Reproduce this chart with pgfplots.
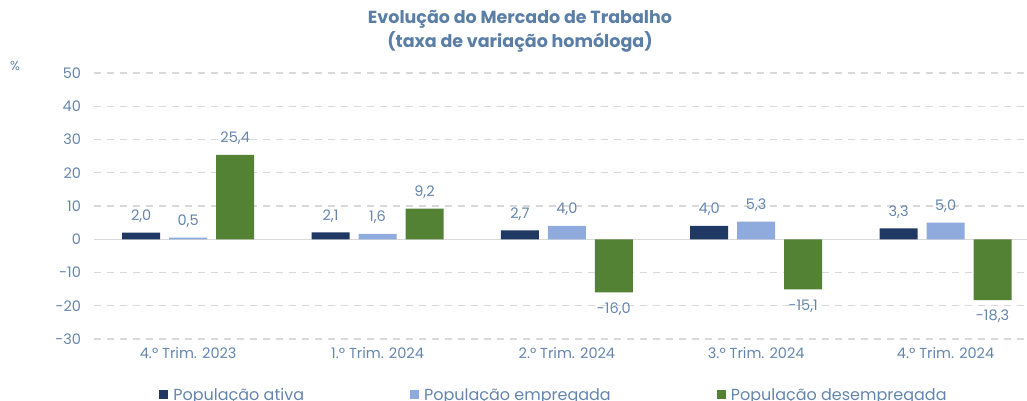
\documentclass[border=0pt]{standalone}
\usepackage{pgfplots}
\pgfplotsset{compat=1.18}
\usepackage{fontspec}
\setmainfont{Poppins}
\definecolor{txt}{HTML}{6585AD}
\definecolor{ttl}{HTML}{5A7EA6}
\definecolor{ativa}{HTML}{1F3864}
\definecolor{empreg}{HTML}{8FAADC}
\definecolor{desemp}{HTML}{548235}
\definecolor{grd}{HTML}{D9D9D9}

\begin{document}
\begin{tikzpicture}
\useasboundingbox (-93.5pt,-61pt) rectangle (933.5pt,339pt);
\begin{axis}[
    scale only axis,
    width=933.5pt, height=266pt,
    xmin=-0.5, xmax=4.43,
    ymin=-30, ymax=50,
    ybar=9pt, bar width=38pt,
    xtick={0,1,2,3,4},
    xticklabels={4.º Trim. 2023, 1.º Trim. 2024, 2.º Trim. 2024, 3.º Trim. 2024, 4.º Trim. 2024},
    ytick={-30,-20,-10,10,20,30,40,50},
    extra y ticks={0},
    extra y tick style={grid style={solid, draw=grd, line width=1.2pt}},
    ymajorgrids=true,
    grid style={dashed, draw=grd, line width=1.2pt, dash pattern=on 7pt off 6pt},
    axis line style={draw=none},
    tick style={draw=none},
    ticklabel style={font=\fontsize{14.5}{16}\selectfont, text=txt},
    yticklabel style={xshift=-9pt},
    xticklabel style={yshift=-0.5pt},
    /pgf/number format/assume math mode=true,
    /pgf/number format/use comma,
    nodes near coords={\pgfmathprintnumber[fixed, fixed zerofill, precision=1, use comma]{\pgfplotspointmeta}},
    every node near coord/.append style={font=\fontsize{14.5}{16}\selectfont, text=txt, inner ysep=10pt, /pgf/number format/assume math mode=true},
    legend style={at={(0.4933,-0.21)}, anchor=center, draw=none, fill=none,
        legend columns=3, font=\fontsize{16}{18}\selectfont, text=txt,
        /tikz/every odd column/.append style={column sep=3pt},
        /tikz/every even column/.append style={column sep=104pt}},
    legend image code/.code={\fill[#1] (0pt,-4.5pt) rectangle (9pt,4.5pt);},
]
\addplot[fill=ativa, draw=none] coordinates {(0,2.0) (1,2.1) (2,2.7) (3,4.0) (4,3.3)};
\addlegendentry{População ativa}
\addplot[fill=empreg, draw=none] coordinates {(0,0.5) (1,1.6) (2,4.0) (3,5.3) (4,5.0)};
\addlegendentry{População empregada}
\addplot[fill=desemp, draw=none] coordinates {(0,25.4) (1,9.2) (2,-16.0) (3,-15.1) (4,-18.3)};
\addlegendentry{População desempregada}
\end{axis}
\node[text=ttl, font=\bfseries\fontsize{17.5}{24}\selectfont, align=center] at (426.5pt,308pt)
  {Evolução do Mercado de Trabalho\\(taxa de variação homóloga)};
\node[text=txt, font=\fontsize{13}{15}\selectfont] at (-78.5pt,273pt) {\%};
\end{tikzpicture}
\end{document}
